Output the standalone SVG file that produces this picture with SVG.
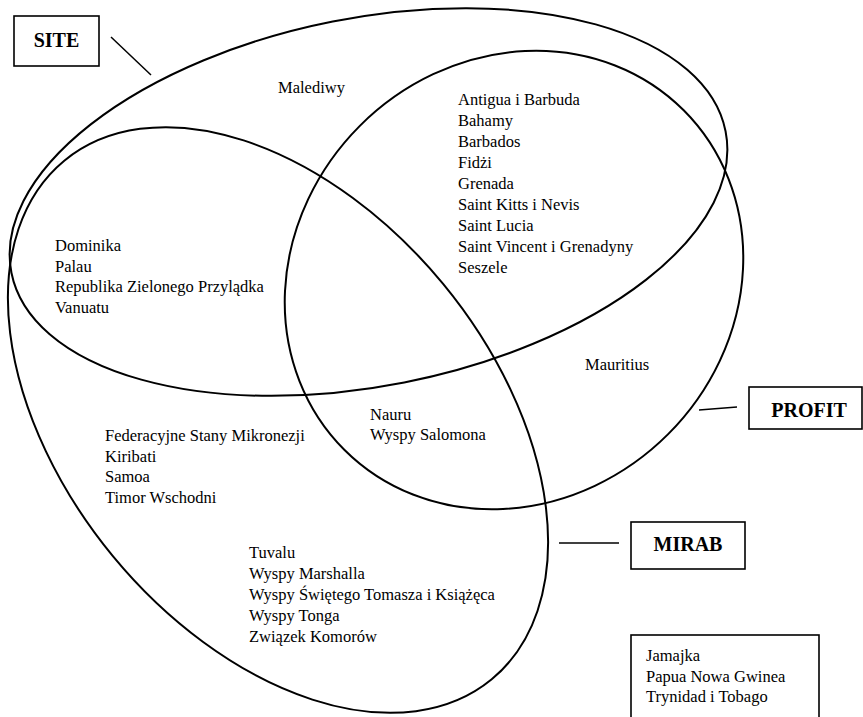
<svg xmlns="http://www.w3.org/2000/svg" width="863" height="717" viewBox="0 0 863 717">
<style>
.set{fill:none;stroke:#000;stroke-width:2}
.box{fill:#fff;stroke:#000;stroke-width:1.6}
.ln{stroke:#000;stroke-width:1.5}
.lbl{font-family:"Liberation Serif","Times New Roman",serif;font-size:20px;font-weight:bold;fill:#000;text-anchor:middle}
.t{font-family:"Liberation Serif","Times New Roman",serif;font-size:16.5px;fill:#000}
</style>
<rect width="863" height="717" fill="#fff"/>
<g id="sets">
<ellipse id="site-set" class="set" cx="368.5" cy="202" rx="364" ry="184" transform="rotate(-11.2 368.5 202)"/>
<ellipse id="mirab-set" class="set" cx="278" cy="420" rx="336" ry="214" transform="rotate(50.5 278 420)"/>
<ellipse id="profit-set" class="set" cx="514" cy="280" rx="240" ry="218" transform="rotate(-45 514 280)"/>
</g>
<g id="connectors">
<line class="ln" x1="111" y1="37" x2="151" y2="75"/>
<line class="ln" x1="699" y1="410" x2="737" y2="407"/>
<line class="ln" x1="559" y1="543" x2="619" y2="543"/>
</g>
<g id="site">
<rect class="box" x="14" y="16" width="85" height="50"/>
<text class="lbl" x="56.5" y="47">SITE</text>
</g>
<g id="profit">
<rect class="box" x="749" y="387" width="113" height="42"/>
<text class="lbl" x="809" y="417">PROFIT</text>
</g>
<g id="mirab">
<rect class="box" x="631" y="522" width="114" height="47"/>
<text class="lbl" x="688" y="551">MIRAB</text>
</g>
<g id="none">
<rect class="box" x="631" y="635" width="188" height="100"/>
<text class="t" x="646" y="661">Jamajka</text>
<text class="t" x="646" y="682">Papua Nowa Gwinea</text>
<text class="t" x="646" y="702">Trynidad i Tobago</text>
</g>
<g id="site-only">
<text class="t" x="278" y="93">Malediwy</text>
</g>
<g id="site-profit">
<text class="t" x="458" y="105">Antigua i Barbuda</text>
<text class="t" x="458" y="126">Bahamy</text>
<text class="t" x="458" y="147">Barbados</text>
<text class="t" x="458" y="168">Fidżi</text>
<text class="t" x="458" y="189">Grenada</text>
<text class="t" x="458" y="210">Saint Kitts i Nevis</text>
<text class="t" x="458" y="231">Saint Lucia</text>
<text class="t" x="458" y="252">Saint Vincent i Grenadyny</text>
<text class="t" x="458" y="273">Seszele</text>
</g>
<g id="site-mirab">
<text class="t" x="55" y="251">Dominika</text>
<text class="t" x="55" y="271.5">Palau</text>
<text class="t" x="55" y="292">Republika Zielonego Przylądka</text>
<text class="t" x="55" y="312.5">Vanuatu</text>
</g>
<g id="profit-only">
<text class="t" x="585" y="370">Mauritius</text>
</g>
<g id="mirab-profit">
<text class="t" x="370" y="420">Nauru</text>
<text class="t" x="370" y="440">Wyspy Salomona</text>
</g>
<g id="mirab-only-1">
<text class="t" x="105" y="441">Federacyjne Stany Mikronezji</text>
<text class="t" x="105" y="461.5">Kiribati</text>
<text class="t" x="105" y="482">Samoa</text>
<text class="t" x="105" y="502.5">Timor Wschodni</text>
</g>
<g id="mirab-only-2">
<text class="t" x="249" y="558">Tuvalu</text>
<text class="t" x="249" y="579">Wyspy Marshalla</text>
<text class="t" x="249" y="600">Wyspy Świętego Tomasza i Książęca</text>
<text class="t" x="249" y="620.5">Wyspy Tonga</text>
<text class="t" x="249" y="641.5">Związek Komorów</text>
</g>
</svg>
